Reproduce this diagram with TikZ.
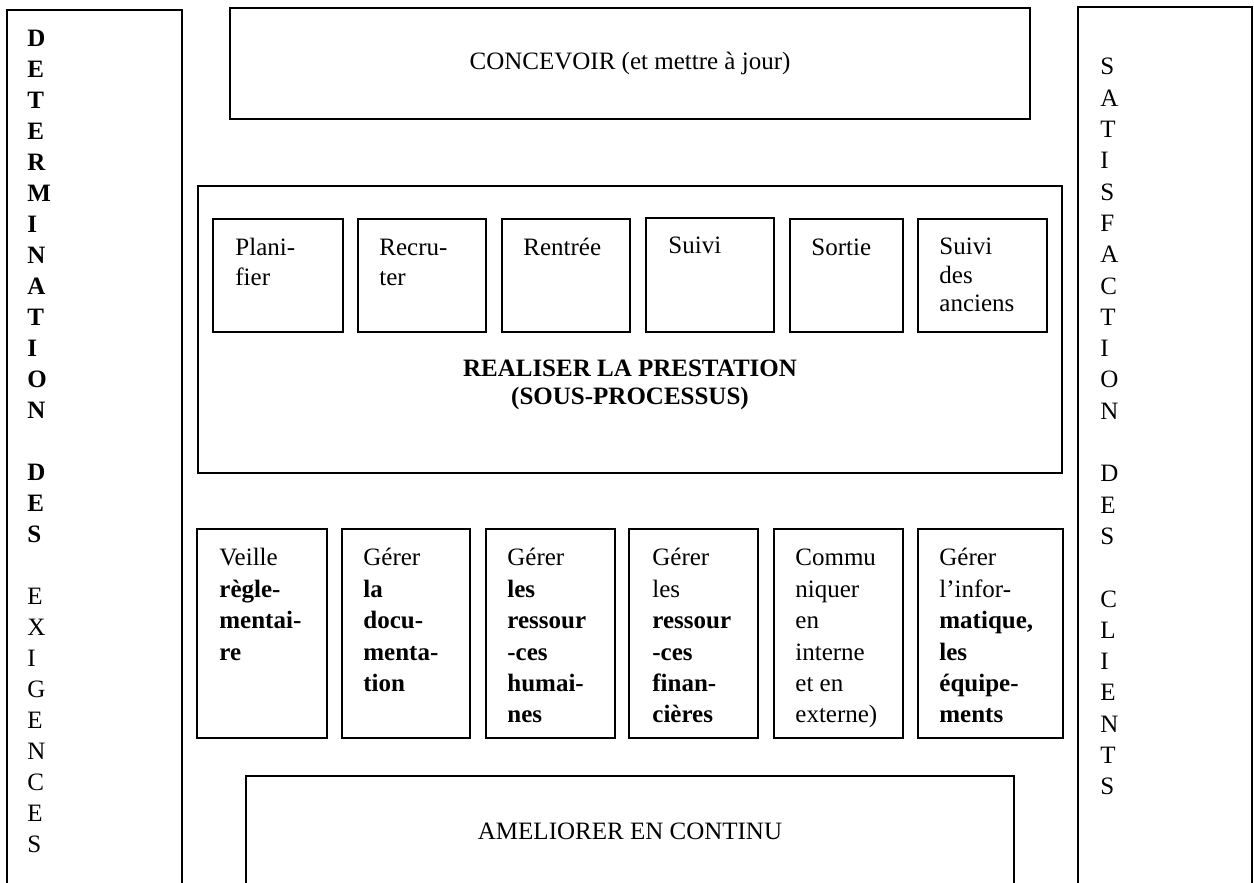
\documentclass[tikz,border=0pt]{standalone}
\usepackage{fontspec}
\setmainfont{Liberation Serif}
\usetikzlibrary{fit}
\tikzset{
  box/.style={draw, line width=0.95pt, inner sep=0pt, fit={#1}},
  txt/.style={anchor=base west, inner sep=0pt, font=\fontsize{12}{14}\selectfont},
  ctr/.style={anchor=base, inner sep=0pt, font=\fontsize{12}{14}\selectfont},
  boldtxt/.style={txt, font=\fontsize{12}{14}\selectfont\bfseries},
}
\newcommand\boxlines[5]{%
  \foreach \t [count=\i] in {#5} \node[txt] (#1-\i) at (#2, {#3+(\i-1)*#4}) {\t};}
\begin{document}
\begin{tikzpicture}[x=0.48pt, y=-0.48pt]
\useasboundingbox (0,0) rectangle (1254,883);
\clip (0,0) rectangle (1254,883);
\fill[white] (0,0) rectangle (1254,883);

% side columns
\node[box={(7,10)(182,900)}] (left) {};
\node[box={(1078,7)(1252,900)}] (right) {};

\foreach \L [count=\i from 0] in {D,E,T,E,R,M,I,N,A,T,I,O,N}
  \node[boldtxt] (dl\i) at (27, {47+31*\i}) {\L};
\foreach \L [count=\i from 14] in {D,E,S}
  \node[boldtxt] (dl\i) at (27, {47+31*\i}) {\L};
\foreach \L [count=\i from 18] in {E,X,I,G,E,N,C,E,S}
  \node[txt] (dl\i) at (27, {47+31*\i}) {\L};

\foreach \L [count=\i from 0] in {S,A,T,I,S,F,A,C,T,I,O,N}
  \node[txt] (sc\i) at (1100, {75+31.3*\i}) {\L};
\foreach \L [count=\i from 13] in {D,E,S}
  \node[txt] (sc\i) at (1100, {75+31.3*\i}) {\L};
\foreach \L [count=\i from 17] in {C,L,I,E,N,T,S}
  \node[txt] (sc\i) at (1100, {75+31.3*\i}) {\L};

% CONCEVOIR
\node[box={(230,8)(1030,119)}] (conc) {};
\node[ctr] (conc-t) at (630,70) {CONCEVOIR (et mettre à jour)};

% REALISER
\node[box={(198,186)(1062,473)}] (real) {};
\node[box={(213,219)(343,332)}] (plan) {};
\node[box={(358,219)(486,332)}] (recr) {};
\node[box={(502,219)(630,332)}] (rent) {};
\node[box={(646,218)(774,332)}] (suiv) {};
\node[box={(790,219)(903,332)}] (sort) {};
\node[box={(918,219)(1047,332)}] (anc) {};
\boxlines{plant}{235}{256}{30}{Plani-,fier}
\boxlines{recrt}{379}{256}{30}{Recru-,ter}
\boxlines{rentt}{523}{256}{30}{Rentrée}
\boxlines{suivt}{668}{254}{30}{Suivi}
\boxlines{sortt}{811}{256}{30}{Sortie}
\boxlines{anct}{939}{255}{28.5}{Suivi,des,anciens}
\node[ctr, font=\fontsize{12}{14}\selectfont\bfseries] (real-t1) at (630,377) {REALISER LA PRESTATION};
\node[ctr, font=\fontsize{12}{14}\selectfont\bfseries] (real-t2) at (630,405) {(SOUS-PROCESSUS)};

% support processes
\node[box={(197,529)(327,738)}] (veil) {};
\node[box={(342,529)(470,738)}] (doc) {};
\node[box={(486,529)(615,738)}] (rh) {};
\node[box={(629,529)(758,738)}] (fin) {};
\node[box={(774,529)(903,738)}] (com) {};
\node[box={(918,529)(1063,738)}] (inf) {};
\boxlines{veilt}{219}{566}{31.4}{Veille,\textbf{règle-},\textbf{mentai-},\textbf{re}}
\boxlines{doct}{363}{566}{31.4}{Gérer,\textbf{la},\textbf{docu-},\textbf{menta-},\textbf{tion}}
\boxlines{rht}{507}{566}{31.4}{Gérer,\textbf{les},\textbf{ressour},\textbf{-ces},\textbf{humai-},\textbf{nes}}
\boxlines{fint}{652}{566}{31.4}{Gérer,les,\textbf{ressour},\textbf{-ces},\textbf{finan-},\textbf{cières}}
\boxlines{comt}{795}{566}{31.4}{Commu,niquer,en,interne,et en,externe)}
\boxlines{inft}{939}{566}{31.4}{Gérer,l’infor-,{\textbf{matique,}},\textbf{les},\textbf{équipe-},\textbf{ments}}

% AMELIORER
\node[box={(246,776)(1014,900)}] (amel) {};
\node[ctr] (amel-t) at (630,840) {AMELIORER EN CONTINU};
\end{tikzpicture}
\end{document}
